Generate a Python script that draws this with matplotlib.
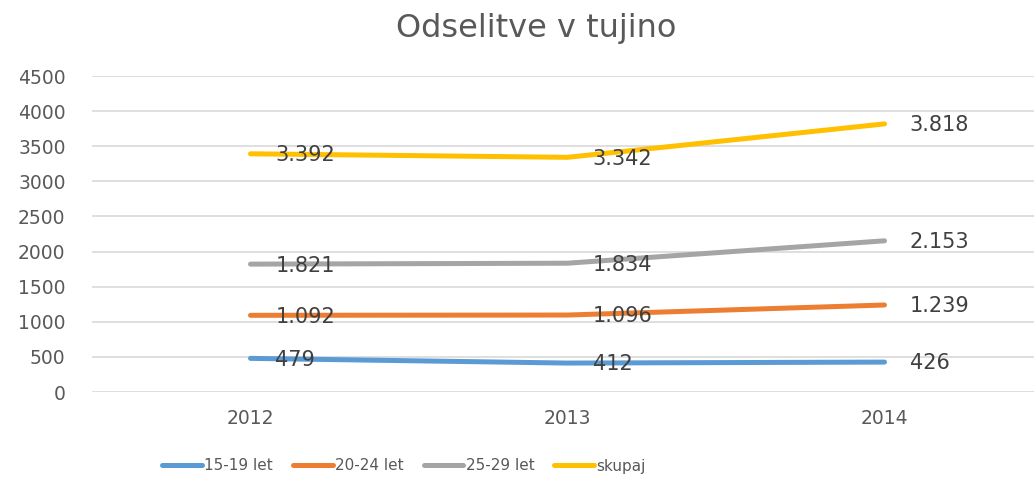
import matplotlib.pyplot as plt

years = ["2012", "2013", "2014"]
s_15_19 = [479, 412, 426]
s_20_24 = [1092, 1096, 1239]
s_25_29 = [1821, 1834, 2153]
skupaj = [3392, 3342, 3818]

series = [
    ("15-19 let", s_15_19, "#5B9BD5"),
    ("20-24 let", s_20_24, "#ED7D31"),
    ("25-29 let", s_25_29, "#A5A5A5"),
    ("skupaj", skupaj, "#FFC000"),
]

plt.rcParams['font.family'] = ['DejaVu Sans']

fig = plt.figure(figsize=(10.34, 4.78), dpi=100)
ax = fig.add_axes([92 / 1034, 1 - 392 / 478, (1043 - 92) / 1034, (392 - 76) / 478])

x = list(range(len(years)))
for name, vals, col in series:
    ax.plot(x, vals, color=col, lw=3.6, solid_capstyle='round', label=name, zorder=3)
    for xi, v in zip(x, vals):
        ax.annotate(f"{v:,}".replace(",", "."), (xi, v), xytext=(18, -1),
                    textcoords='offset points', ha='left', va='center',
                    fontsize=15, color='#404040', zorder=4)

ax.set_xlim(-0.5, 2.5)
ax.set_ylim(0, 4500)
ax.set_yticks(range(0, 4501, 500))
ax.set_xticks(x)
ax.set_xticklabels(years)
ax.grid(axis='y', color='#D9D9D9', lw=1.2)
ax.set_axisbelow(True)
for sp in ax.spines.values():
    sp.set_visible(False)
ax.tick_params(axis='y', length=0, pad=19, labelsize=13.5, labelcolor='#595959')
ax.tick_params(axis='x', length=0, pad=12, labelsize=13.5, labelcolor='#595959')

fig.text(536 / 1034, 1 - 28 / 478, "Odselitve v tujino", ha='center', va='center',
         fontsize=23, color='#595959')

leg = fig.legend(loc='center', bbox_to_anchor=(404 / 1034, 1 - 466 / 478), ncol=4,
                 frameon=False, fontsize=11, labelcolor='#595959', handlelength=2.6,
                 handletextpad=0.15, columnspacing=1.3)
for h in leg.get_lines():
    h.set_solid_capstyle('round')

fig.savefig("out.png", dpi=100)
